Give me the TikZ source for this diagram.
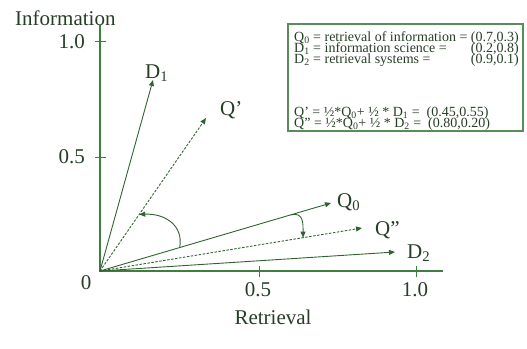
\documentclass[tikz,border=0pt]{standalone}
\usepackage{fontspec}
\setmainfont{Liberation Serif}
\usetikzlibrary{arrows.meta,calc}
\definecolor{vecGreen}{HTML}{2F6430}
\definecolor{axisGreen}{HTML}{3E7E3E}
\definecolor{boxGreen}{HTML}{5A8C5A}
\definecolor{labelInk}{HTML}{263E26}
\tikzset{
  axis line/.style={draw=axisGreen, line width=1.2pt},
  tick mark/.style={draw=axisGreen, line width=1pt},
  doc vec/.style={-{Triangle[length=6pt,width=5pt]}, draw=vecGreen,
    line width=0.9pt},
  query vec/.style={doc vec, dash pattern=on 2.5pt off 1.5pt},
  turn arrow/.style={-{Triangle[length=6pt,width=5pt]}, draw=vecGreen,
    line width=0.9pt},
  key box/.style={draw=boxGreen, line width=1.4pt},
  big label/.style={font=\fontsize{21}{24}\selectfont, text=labelInk,
    inner sep=0pt},
  key text/.style={font=\fontsize{14}{11}\selectfont, text=labelInk,
    inner sep=0pt}
}

\begin{document}
\begin{tikzpicture}[x=1pt,y=-1pt]
  \useasboundingbox (0,0) rectangle (527,348);
  % axes
  \coordinate (O) at (100,271);
  \coordinate (ytop) at (100,25);
  \coordinate (xend) at (443,271);
  \draw[axis line] (ytop) -- (O) -- (xend);
  \foreach \ty in {41,157} \draw[tick mark] (95,\ty) -- (106,\ty);
  \foreach \tx in {259,416} \draw[tick mark] (\tx,266) -- (\tx,277);
  \node[big label, anchor=base west] (info) at (15,25) {Information};
  \node[big label, anchor=east] (y10) at (85,42) {1.0};
  \node[big label, anchor=east] (y05) at (85,157) {0.5};
  \node[big label] (zero) at (86,283) {0};
  \node[big label] (x05) at (258,290) {0.5};
  \node[big label] (x10) at (415,290) {1.0};
  \node[big label, anchor=base] (retr) at (273,324) {Retrieval};

  % document and query vectors
  \coordinate (d1) at (153,80);
  \coordinate (qp) at (206,118);
  \coordinate (q0) at (331,203);
  \coordinate (qpp) at (362,228);
  \coordinate (d2) at (395,252);
  \draw[doc vec] (O) -- (d1);
  \draw[query vec] (O) -- (qp);
  \draw[doc vec] (O) -- (q0);
  \draw[query vec] (O) -- (qpp);
  \draw[doc vec] (O) -- (d2);
  \node[big label, anchor=base west] (d1 label) at (145,78) {D\textsubscript{1}};
  \node[big label, anchor=base west] (qp label) at (220,115) {Q’};
  \node[big label, anchor=base west] (q0 label) at (337,207) {Q\textsubscript{0}};
  \node[big label, anchor=base west] (qpp label) at (375,235) {Q”};
  \node[big label, anchor=base west] (d2 label) at (407,258) {D\textsubscript{2}};

  % turning arrows
  \coordinate (t1a) at ($(O)!0.345!(q0)$);
  \coordinate (t1b) at ($(O)!0.37!(qp)$);
  \draw[turn arrow] (t1a) .. controls +(4,-22) and +(26,-1) .. (t1b);
  \coordinate (t2a) at ($(O)!0.826!(q0)$);
  \coordinate (t2b) at ($(O)!0.775!(qpp)$);
  \draw[turn arrow] (t2a) .. controls +(13,-3) and +(0,-14) .. (t2b);

  % key
  \draw[key box] (288,24) rectangle (523,131);
  \node[key text, anchor=base west] (k1) at (294,41)
    {Q\textsubscript{0} = retrieval of information = (0.7,0.3)};
  \node[key text, anchor=base west] (k2) at (294,52)
    {D\textsubscript{1} = information science =};
  \node[key text, anchor=base east] (k2v) at (519,52) {(0.2,0.8)};
  \node[key text, anchor=base west] (k3) at (294,63)
    {D\textsubscript{2} = retrieval systems =};
  \node[key text, anchor=base east] (k3v) at (519,63) {(0.9,0.1)};
  \node[key text, anchor=base west] (k4) at (294,116)
    {Q’ = ½*Q\textsubscript{0}+ ½ * D\textsubscript{1} =\ \ (0.45,0.55)};
  \node[key text, anchor=base west] (k5) at (294,127)
    {Q” = ½*Q\textsubscript{0}+ ½ * D\textsubscript{2} =\ \ (0.80,0.20)};
\end{tikzpicture}
\end{document}
